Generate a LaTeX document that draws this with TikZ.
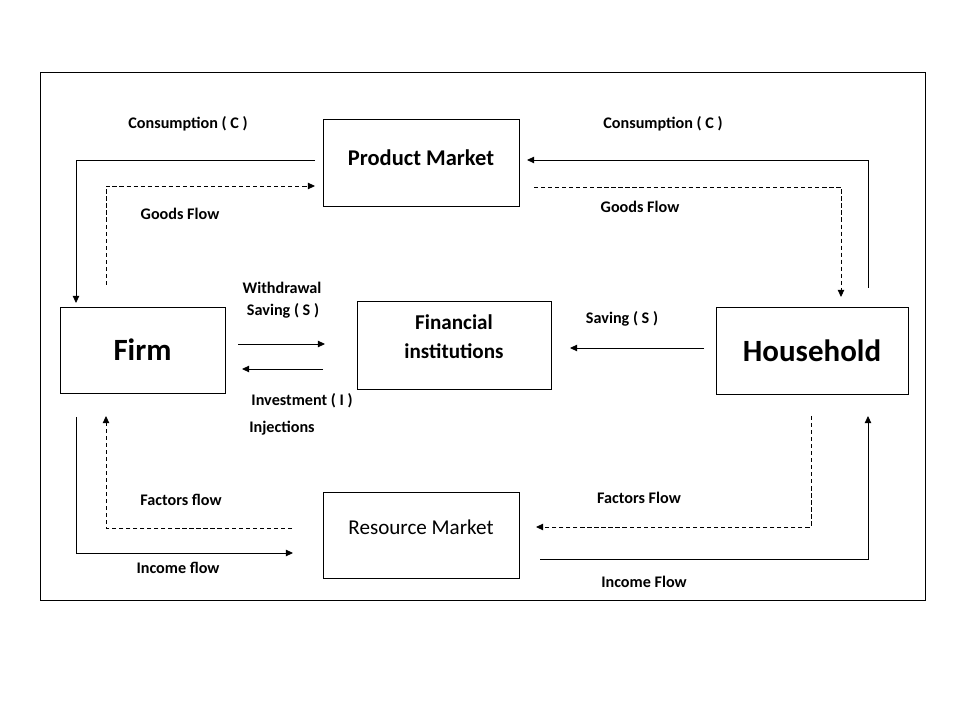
\documentclass[tikz,border=0pt]{standalone}
\usepackage{fontspec}
\setmainfont{Carlito}
\usetikzlibrary{arrows.meta}
\begin{document}
\begin{tikzpicture}[x=0.025cm, y=-0.025cm,
	box/.style={draw, line width=0.6pt, inner sep=0pt, align=center},
	lbl/.style={font=\fontsize{11.5}{13}\selectfont\bfseries, inner sep=0pt},
	flow/.style={line width=0.6pt, -{Triangle[length=5pt,width=4.5pt]}},
	goods/.style={flow, dash pattern=on 3pt off 2pt}]
	\useasboundingbox (0,0) rectangle (960,720);
	% Outer frame
	\draw[line width=0.6pt] (40,72) rectangle (925,600);
	
	% Markets and sectors
	\node[box, minimum width=4.9cm, minimum height=2.175cm, text depth=7pt, font=\fontsize{16}{19}\selectfont\bfseries] (product) at (421,162.5) {Product Market};
	\node[box, minimum width=4.85cm, minimum height=2.2cm, text depth=12pt, font=\fontsize{15}{20.5}\selectfont\bfseries] (financial) at (454,345) {Financial\\institutions};
	\node[box, minimum width=4.125cm, minimum height=2.15cm, font=\fontsize{22}{26}\selectfont\bfseries] (firm) at (142.5,350) {Firm};
	\node[box, minimum width=4.8cm, minimum height=2.175cm, font=\fontsize{22}{26}\selectfont\bfseries] (household) at (812,350.5) {Household};
	\node[box, minimum width=4.9cm, minimum height=2.15cm, text depth=11pt, font=\fontsize{15}{18}\selectfont] (resource) at (421,535) {Resource Market};
	
	% Flow labels
	\foreach \n/\x/\y/\t in {consF/188/124/{Consumption ( C )}, consH/663/124/{Consumption ( C )},
		goodsF/180/214/{Goods Flow}, goodsH/640/207/{Goods Flow},
		withdr/282/288/{Withdrawal}, savF/283/311/{Saving ( S )},
		invest/302/401/{Investment ( I )}, inject/282/428/{Injections},
		savH/622/319/{Saving ( S )},
		factF/181/500/{Factors flow}, incF/178/568/{Income flow},
		factH/639/498/{Factors Flow}, incH/644/582/{Income Flow}}
	\node[lbl] (\n) at (\x,\y) {\t};
	
	% Ends of the flows
	\coordinate (cfA) at (315,160);
	\coordinate (cfB) at (76,303);
	\coordinate (gfA) at (106,285);
	\coordinate (gfB) at (315,186);
	\coordinate (chA) at (868,288);
	\coordinate (chB) at (527,160);
	\coordinate (ghA) at (534,187);
	\coordinate (ghB) at (841,297);
	\coordinate (swA) at (238,344);
	\coordinate (swB) at (325,344);
	\coordinate (inA) at (323,369);
	\coordinate (inB) at (242,369);
	\coordinate (shA) at (704,348);
	\coordinate (shB) at (570,348);
	\coordinate (ifA) at (76,417);
	\coordinate (ifB) at (293,553);
	\coordinate (ffA) at (292,528);
	\coordinate (ffB) at (106,416);
	\coordinate (fhA) at (811,416);
	\coordinate (fhB) at (536,527);
	\coordinate (ihA) at (540,559);
	\coordinate (ihB) at (868,416);
	
	% Upper loop
	\draw[flow] (cfA) -| (cfB);
	\draw[goods] (gfA) |- (gfB);
	\draw[flow] (chA) |- (chB);
	\draw[goods] (ghA) -| (ghB);
	
	% Withdrawals and injections
	\draw[flow] (swA) -- (swB);
	\draw[flow] (inA) -- (inB);
	\draw[flow] (shA) -- (shB);
	
	% Lower loop
	\draw[flow] (ifA) |- (ifB);
	\draw[goods] (ffA) -| (ffB);
	\draw[goods] (fhA) |- (fhB);
	\draw[flow] (ihA) -| (ihB);
\end{tikzpicture}
\end{document}
